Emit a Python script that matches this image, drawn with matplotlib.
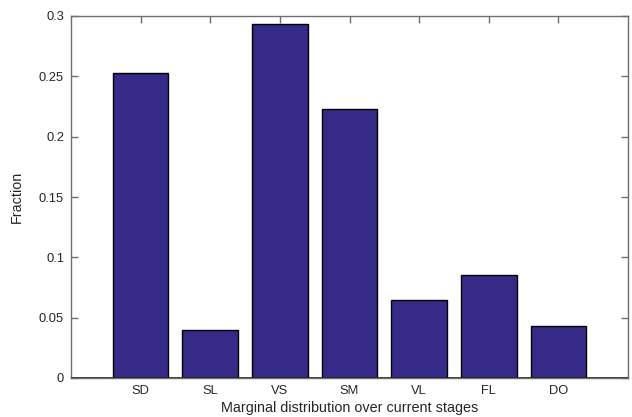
import numpy as np
import matplotlib
matplotlib.use('Agg')
import matplotlib.pyplot as plt

stages = ['SD', 'SL', 'VS', 'SM', 'VL', 'FL', 'DO']
fraction = [0.253, 0.040, 0.293, 0.223, 0.065, 0.085, 0.043]

plt.rcParams['font.family'] = ['Liberation Sans', 'DejaVu Sans']

fig = plt.figure(figsize=(6.32, 4.17), dpi=100)
ax = fig.add_axes([71 / 632, 1 - 378 / 417, 557 / 632, 362 / 417])

ind = np.arange(1, len(stages) + 1)
ax.bar(ind, fraction, 0.8, color='#352a87', edgecolor='black', linewidth=1)
ax.axhline(0, color='#262626', lw=1.2, zorder=3)  # bar baseline
ax.set_axisbelow(True)

ax.set_xlim(0, 8)
ax.set_ylim(0, 0.3)
ax.set_xticks(ind)
ax.set_xticklabels(stages)
ax.set_yticks([0, 0.05, 0.1, 0.15, 0.2, 0.25, 0.3])
ax.set_yticklabels(['0', '0.05', '0.1', '0.15', '0.2', '0.25', '0.3'])

axis_col = '#6e6e6e'
for s in ax.spines.values():
    s.set_color(axis_col)
    s.set_linewidth(1)
ax.tick_params(direction='in', length=5, width=1, color=axis_col,
               labelsize=9.3, labelcolor='#262626', top=True, right=True, pad=5)

ax.set_xlabel('Marginal distribution over current stages', fontsize=10.4, color='#262626', labelpad=3)
ax.set_ylabel('Fraction', fontsize=10.4, color='#262626', labelpad=11)

fig.savefig('out.png', dpi=100)
